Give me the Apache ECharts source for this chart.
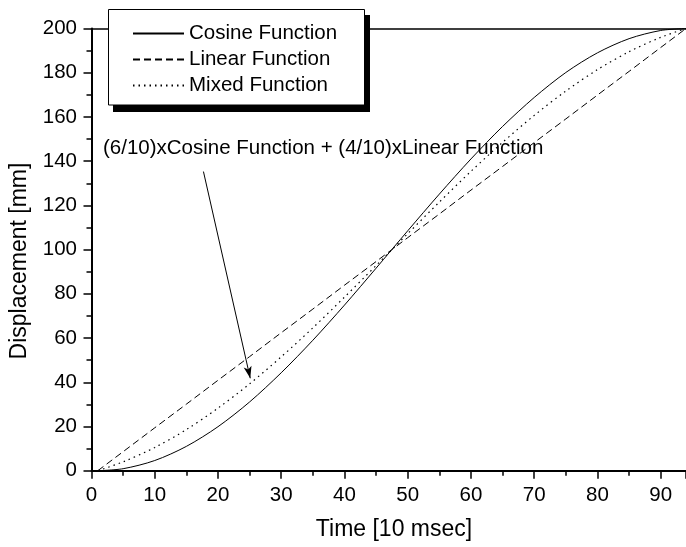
<!DOCTYPE html>
<html>
<head>
<meta charset="utf-8">
<script src="https://cdn.jsdelivr.net/npm/echarts@6/dist/echarts.min.js"></script>
<style>html,body{margin:0;padding:0;background:#fff}#c{width:686px;height:547px}</style>
</head>
<body>
<div id="c"></div>
<script>
var timeValues = [1, 5, 10, 15, 20, 25, 30, 35, 40, 45, 50, 55, 60, 65, 70, 75, 80, 85, 90, 94];
var cosineValues = [0, 0.9, 4.6, 11.0, 19.9, 31.1, 44.3, 59.0, 74.9, 91.6, 108.5, 125.1, 141.0, 155.7, 168.8, 180.1, 189.0, 195.4, 199.1, 200];
var linearValues = [0, 8.6, 19.4, 30.1, 40.9, 51.6, 62.4, 73.1, 83.9, 94.6, 105.4, 116.1, 126.9, 137.6, 148.4, 159.1, 169.9, 180.6, 191.4, 200];
var mixedValues = [0, 4.0, 10.5, 18.6, 28.3, 39.3, 51.5, 64.6, 78.5, 92.8, 107.2, 121.5, 135.4, 148.5, 160.7, 171.7, 181.4, 189.5, 196.0, 200];
var seriesNames = ['Cosine Function', 'Linear Function', 'Mixed Function'];
var annotationText = '(6/10)xCosine Function + (4/10)xLinear Function';
var xTitle = 'Time [10 msec]';
var yTitle = 'Displacement [mm]';
var arrowFrom = [17.7, 135.3];
var arrowTo = [25.1, 41.8];

function pairs(ys) { return timeValues.map(function (t, i) { return [t, ys[i]]; }); }

var FONT = 'Liberation Sans';
var FS = 20.5;
var chart = echarts.init(document.getElementById('c'), null, { renderer: 'canvas' });
chart.setOption({
  animation: false,
  backgroundColor: '#fff',
  textStyle: { fontFamily: FONT, color: '#000' },
  grid: { left: 91.5, right: 0, top: 28.5, bottom: 76.3 },
  xAxis: [{
    type: 'value', min: 0, max: 94, interval: 10,
    axisLine: { show: true, onZero: false, lineStyle: { color: '#000', width: 2 } },
    axisTick: { show: true, inside: false, length: 8, lineStyle: { color: '#000', width: 1.5 } },
    minorTick: { show: true, splitNumber: 2, length: 5, lineStyle: { color: '#000', width: 1.5 } },
    splitLine: { show: false },
    axisLabel: { fontSize: FS, fontFamily: FONT, color: '#000', margin: 14.5, showMaxLabel: false }
  }, {
    type: 'value', min: 0, max: 94, position: 'top',
    axisLine: { show: true, onZero: false, lineStyle: { color: '#000', width: 1.5 } },
    axisTick: { show: false }, axisLabel: { show: false }, splitLine: { show: false }
  }],
  yAxis: {
    type: 'value', min: 0, max: 200, interval: 20,
    axisLine: { show: true, onZero: false, lineStyle: { color: '#000', width: 2 } },
    axisTick: { show: true, inside: false, length: 8, lineStyle: { color: '#000', width: 1.5 } },
    minorTick: { show: true, splitNumber: 2, length: 5, lineStyle: { color: '#000', width: 1.5 } },
    splitLine: { show: false },
    axisLabel: { fontSize: FS, fontFamily: FONT, color: '#000', margin: 14.5 }
  },
  legend: {
    orient: 'vertical', left: 132, top: 23, z: 20, padding: 0,
    itemWidth: 51, itemHeight: 12, itemGap: 5,
    itemStyle: { opacity: 0 },
    textStyle: { fontSize: FS, lineHeight: 20, fontFamily: FONT, color: '#000', padding: [0, 0, 0, 0] },
    data: seriesNames.map(function (n) { return { name: n }; })
  },
  graphic: [
    { type: 'rect', z: 15, shape: { x: 113, y: 15, width: 257, height: 97 }, style: { fill: '#000' } },
    { type: 'rect', z: 16, shape: { x: 108.5, y: 9.5, width: 256, height: 95.5 }, style: { fill: '#fff', stroke: '#000', lineWidth: 1 } },
    { type: 'text', z: 16, left: 103, top: 138, style: { text: annotationText, fontSize: FS, fontFamily: FONT, fill: '#000' } },
    { type: 'text', z: 16, x: 394, y: 530, style: { text: xTitle, fontSize: 23, fontFamily: FONT, fill: '#000', align: 'center', verticalAlign: 'middle' } },
    { type: 'text', z: 16, x: 20, y: 261, rotation: Math.PI / 2, style: { text: yTitle, fontSize: 23, fontFamily: FONT, fill: '#000', align: 'center', verticalAlign: 'middle' } }
  ],
  series: [{
    name: seriesNames[0], type: 'line', data: pairs(cosineValues), smooth: 0.3,
    showSymbol: false, symbol: 'none',
    lineStyle: { color: '#000', width: 1, type: 'solid' }, itemStyle: { color: '#000' }
  }, {
    name: seriesNames[1], type: 'line', data: pairs(linearValues),
    showSymbol: false, symbol: 'none',
    lineStyle: { color: '#000', width: 1, type: [7, 4] }, itemStyle: { color: '#000' }
  }, {
    name: seriesNames[2], type: 'line', data: pairs(mixedValues), smooth: 0.3,
    showSymbol: false, symbol: 'none',
    lineStyle: { color: '#000', width: 1.2, type: [1.5, 4] }, itemStyle: { color: '#000' },
    markLine: {
      silent: true, symbol: ['none', 'arrow'], symbolSize: [6, 12],
      label: { show: false },
      lineStyle: { color: '#000', width: 1, type: 'solid' },
      data: [[{ coord: arrowFrom }, { coord: arrowTo }]]
    }
  }]
});
</script>
</body>
</html>
